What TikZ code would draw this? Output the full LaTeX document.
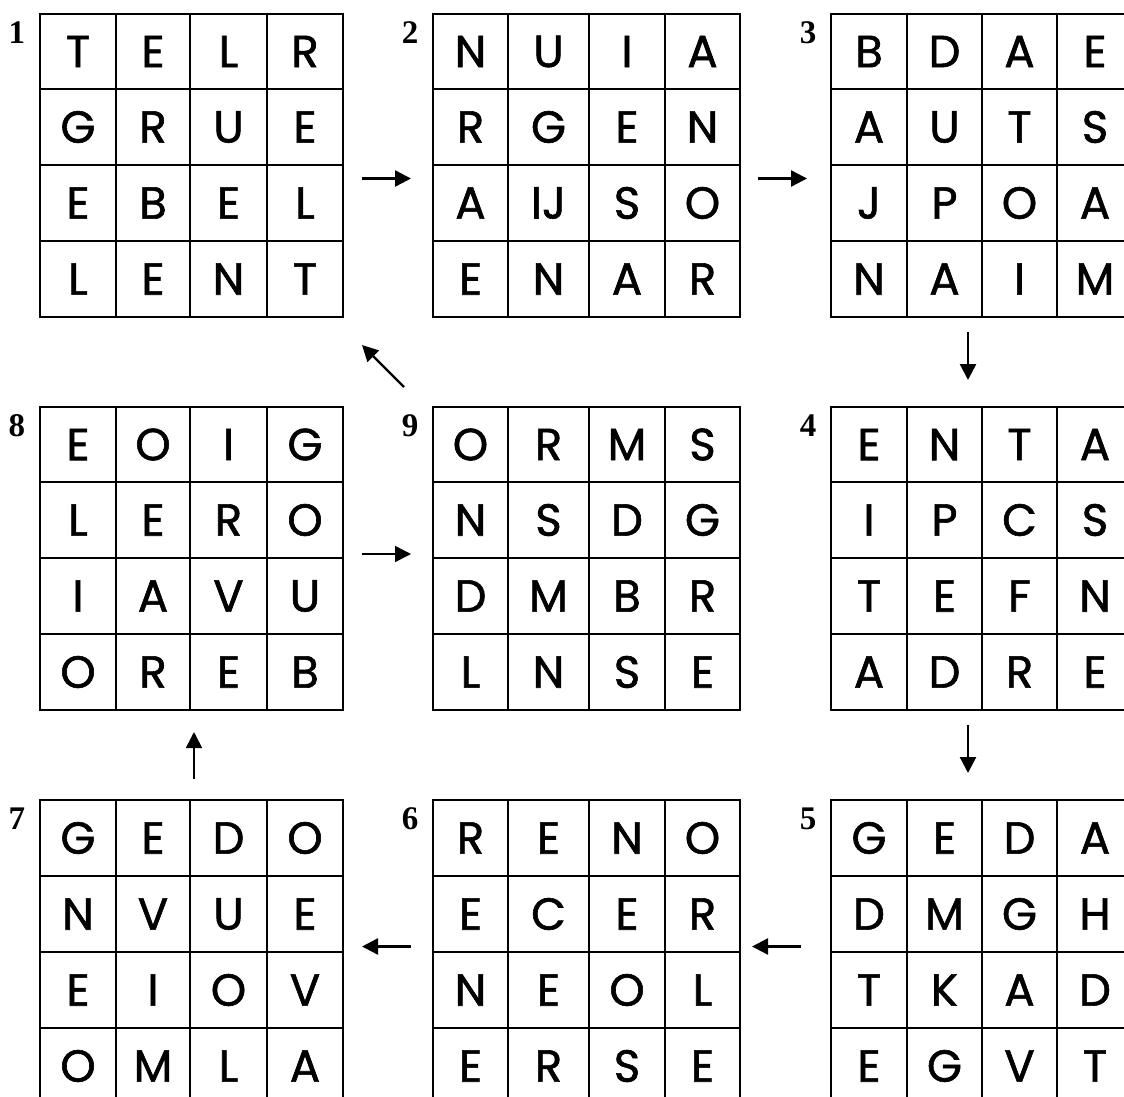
\documentclass[tikz,border=0pt]{standalone}
\usepackage{fontspec}
\setmainfont{Liberation Serif}
\newfontfamily\comicfont[FakeBold=1.3]{Poppins}
\usetikzlibrary{arrows.meta}
\newcommand\mkgrid[5]{%
  \def\gx{{#3}}\def\gy{{#4}}%
  \pgfmathsetmacro\xa{\gx[0]}\pgfmathsetmacro\xe{\gx[4]}%
  \pgfmathsetmacro\ya{\gy[0]}\pgfmathsetmacro\ye{\gy[4]}%
  \foreach \k in {0,...,4}{%
    \pgfmathsetmacro\xk{\gx[\k]}\pgfmathsetmacro\yk{\gy[\k]}%
    \draw[gridline] (\xk,\ya) -- (\xk,\ye);
    \draw[gridline] (\xa,\yk) -- (\xe,\yk);
  }%
  \foreach \L [count=\n from 0] in {#5}{%
    \pgfmathtruncatemacro\rr{int(\n/4)}\pgfmathtruncatemacro\cc{mod(\n,4)}%
    \pgfmathtruncatemacro\rn{\rr+1}\pgfmathtruncatemacro\cn{\cc+1}%
    \pgfmathsetmacro\xl{\gx[\cc]}\pgfmathsetmacro\xr{\gx[\cn]}%
    \pgfmathsetmacro\yt{\gy[\rr]}\pgfmathsetmacro\yb{\gy[\rn]}%
    \pgfmathsetmacro\cx{(\xl+\xr)/2}%
    \pgfmathsetmacro\cy{(\yt+\yb)/2}%
    \node[letter] (#1-\rr-\cc) at (\cx,\cy) {\L};
  }%
  \node[num] (#1-num) at (\xa-23,\ya+19) {#2};
}
\begin{document}
\begin{tikzpicture}[x=1pt,y=-1pt,
  gridline/.style={line width=2.6pt, line cap=rect},
  letter/.style={font=\comicfont\fontsize{45}{45}\selectfont, inner sep=0pt, anchor=center},
  num/.style={font=\bfseries\fontsize{33}{33}\selectfont, inner sep=0pt},
  arr/.style={line width=2.4pt, -{Triangle[length=16pt,width=16pt]}},
  thinarr/.style={line width=1.6pt, -{Triangle[length=16pt,width=16pt]}},
]
\fill[white] (0,0) rectangle (1124,1097);
\useasboundingbox (0,0) rectangle (1124,1097);
\clip (0,0) rectangle (1124,1097);

\mkgrid{g1}{1}{40,116,190,267,343}{14,89,165,241,317}{T,E,L,R,G,R,U,E,E,B,E,L,L,E,N,T}
\mkgrid{g2}{2}{433,508,589,665,740}{14,89,165,241,317}{N,U,I,A,R,G,E,N,A,IJ,S,O,E,N,A,R}
\mkgrid{g3}{3}{831,907,982,1057,1133}{14,89,165,241,317}{B,D,A,E,A,U,T,S,J,P,O,A,N,A,I,M}
\mkgrid{g8}{8}{40,116,190,267,343}{407,482,558,634,710}{E,O,I,G,L,E,R,O,I,A,V,U,O,R,E,B}
\mkgrid{g9}{9}{433,508,589,665,740}{407,482,558,634,710}{O,R,M,S,N,S,D,G,D,M,B,R,L,N,S,E}
\mkgrid{g4}{4}{831,907,982,1057,1133}{407,482,558,634,710}{E,N,T,A,I,P,C,S,T,E,F,N,A,D,R,E}
\mkgrid{g7}{7}{40,116,190,267,343}{800,876,952,1028,1104}{G,E,D,O,N,V,U,E,E,I,O,V,O,M,L,A}
\mkgrid{g6}{6}{433,508,589,665,740}{800,876,952,1028,1104}{R,E,N,O,E,C,E,R,N,E,O,L,E,R,S,E}
\mkgrid{g5}{5}{831,907,982,1057,1133}{800,876,952,1028,1104}{G,E,D,A,D,M,G,H,T,K,A,D,E,G,V,T}

\coordinate (s12) at (362,178.5); \coordinate (e12) at (411,178.5);
\coordinate (s23) at (758,178.5); \coordinate (e23) at (807,178.5);
\coordinate (s34) at (968,332);   \coordinate (e34) at (968,380);
\coordinate (s45) at (968,725);   \coordinate (e45) at (968,773);
\coordinate (s56) at (801,946.5); \coordinate (e56) at (752,946.5);
\coordinate (s67) at (411,946.5); \coordinate (e67) at (362,946.5);
\coordinate (s78) at (194,779);   \coordinate (e78) at (194,732);
\coordinate (s89) at (362,554);   \coordinate (e89) at (411,554);
\coordinate (s91) at (404,387);   \coordinate (e91) at (362,345);

\draw[arr] (s12) -- (e12);
\draw[arr] (s23) -- (e23);
\draw[arr] (s34) -- (e34);
\draw[arr] (s45) -- (e45);
\draw[arr] (s56) -- (e56);
\draw[arr] (s67) -- (e67);
\draw[thinarr] (s78) -- (e78);
\draw[thinarr] (s89) -- (e89);
\draw[arr] (s91) -- (e91);
\end{tikzpicture}
\end{document}
